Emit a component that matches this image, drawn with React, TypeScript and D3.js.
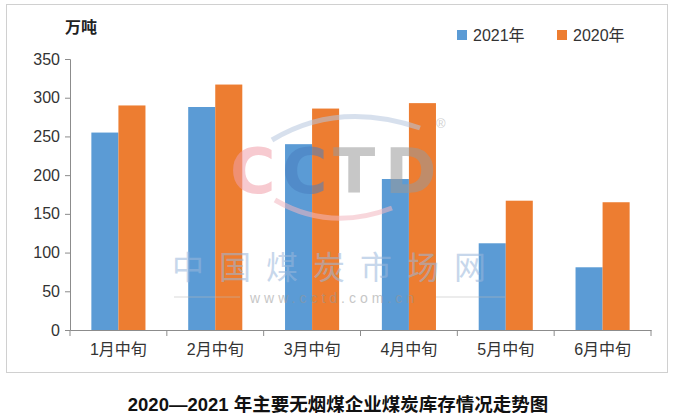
import * as d3 from "d3";
import React, { useRef, useEffect } from 'react';

const categories = ['1月中旬', '2月中旬', '3月中旬', '4月中旬', '5月中旬', '6月中旬'];
const series = ['2021年', '2020年'];
const values2021 = [255, 288, 240, 195, 112, 81];
const values2020 = [290, 317, 286, 293, 167, 165];
const yTicks = [0, 50, 100, 150, 200, 250, 300, 350];
const colors = ['#5b9bd5', '#ed7d31'];

const unitLabel = '万吨';
const title = '2020—2021 年主要无烟煤企业煤炭库存情况走势图';

const FONT = '"Liberation Sans", "Noto Sans CJK SC", sans-serif';
const CJK = '"Noto Sans CJK SC", sans-serif';

const App: React.FC = () => {
  const svgRef = useRef<SVGSVGElement | null>(null);

  useEffect(() => {
    const width = 674;
    const height = 419;
    const margin = { top: 59, right: 23, bottom: 89, left: 70 };
    const graphWidth = width - margin.left - margin.right;
    const graphHeight = height - margin.top - margin.bottom;

    const svg = d3.select(svgRef.current)
      .attr('width', width)
      .attr('height', height)
      .html('');

    // outer frame
    svg.append('rect')
      .attr('x', 6.5).attr('y', 4.5)
      .attr('width', 661).attr('height', 368)
      .attr('fill', 'white')
      .attr('stroke', '#d0d0d0');

    const xScale = d3.scaleBand()
      .domain(categories)
      .range([0, graphWidth]);

    const xSub = d3.scaleBand()
      .domain(series)
      .range([0, xScale.bandwidth()])
      .paddingOuter(0.79);

    const yScale = d3.scaleLinear()
      .domain([0, 350])
      .range([graphHeight, 0]);

    const g = svg.append('g')
      .attr('transform', `translate(${margin.left},${margin.top})`);

    const rows = categories.map((c, i) => ({ cat: c, vals: [values2021[i], values2020[i]] }));

    g.selectAll('.grp')
      .data(rows)
      .enter()
      .append('g')
      .attr('class', 'grp')
      .attr('transform', d => `translate(${xScale(d.cat)},0)`)
      .selectAll('rect')
      .data(d => d.vals.map((v, j) => ({ key: series[j], v, color: colors[j] })))
      .enter()
      .append('rect')
      .attr('x', d => xSub(d.key)!)
      .attr('width', xSub.bandwidth())
      .attr('y', d => yScale(d.v))
      .attr('height', d => graphHeight - yScale(d.v))
      .attr('fill', d => d.color);

    // Y axis
    const yAxis = g.append('g')
      .call(d3.axisLeft(yScale).tickValues(yTicks).tickSize(5).tickPadding(5));
    yAxis.selectAll('text')
      .style('font-family', FONT)
      .style('font-size', '16px')
      .style('fill', '#333');

    // X axis
    const xAxis = g.append('g')
      .attr('transform', `translate(0,${graphHeight})`)
      .call(d3.axisBottom(xScale).tickSize(0).tickPadding(14));
    xAxis.selectAll('text')
      .style('font-family', FONT)
      .style('font-size', '16px')
      .style('fill', '#333');

    // category boundary ticks
    const bounds = categories.map(c => xScale(c)!).concat([graphWidth]);
    g.selectAll('.xtick')
      .data(bounds)
      .enter()
      .append('line')
      .attr('class', 'xtick')
      .attr('x1', d => d).attr('x2', d => d)
      .attr('y1', graphHeight).attr('y2', graphHeight + 6)
      .attr('stroke', '#8c8c8c');

    g.selectAll('.domain, .tick line')
      .attr('stroke', '#8c8c8c');

    // watermark
    const wm = svg.append('g').attr('opacity', 0.55).style('pointer-events', 'none');
    wm.append('path')
      .attr('d', 'M 272 140 Q 338 100 420 128')
      .attr('fill', 'none').attr('stroke', '#b8c8e0').attr('stroke-width', 5);
    wm.append('path')
      .attr('d', 'M 275 200 Q 330 232 392 208')
      .attr('fill', 'none').attr('stroke', '#f4b8c0').attr('stroke-width', 5);
    const letters = [
      { t: 'C', x: 230, c: '#f2a0aa' },
      { t: 'C', x: 282, c: '#4a7fc0' },
      { t: 'T', x: 333, c: '#9a9a9a' },
      { t: 'D', x: 385, c: '#9a9a9a' },
    ];
    wm.selectAll('.wml')
      .data(letters)
      .enter()
      .append('text')
      .attr('x', d => d.x)
      .attr('y', 193)
      .style('font-family', '"DejaVu Sans", sans-serif')
      .style('font-size', '62px')
      .style('font-weight', 'bold')
      .style('fill', d => d.c)
      .text(d => d.t);
    wm.append('text')
      .attr('x', 436).attr('y', 128)
      .style('font-family', FONT).style('font-size', '13px').style('fill', '#aaa')
      .text('®');
    wm.append('text')
      .attr('x', 172).attr('y', 279)
      .style('font-family', CJK).style('font-size', '32px')
      .style('letter-spacing', '15px')
      .style('fill', '#9ab8dc')
      .text('中国煤炭市场网');
    wm.append('text')
      .attr('x', 250).attr('y', 303)
      .style('font-family', FONT).style('font-size', '14px')
      .style('letter-spacing', '4px')
      .style('fill', '#999')
      .text('www.cctd.com.cn');
    wm.append('line').attr('x1', 174).attr('x2', 240).attr('y1', 297).attr('y2', 297).attr('stroke', '#bbb');
    wm.append('line').attr('x1', 436).attr('x2', 505).attr('y1', 297).attr('y2', 297).attr('stroke', '#bbb');

    // legend
    const legendX = [457, 557];
    const legend = svg.append('g');
    series.forEach((s, i) => {
      legend.append('rect')
        .attr('x', legendX[i]).attr('y', 30)
        .attr('width', 10).attr('height', 10)
        .attr('fill', colors[i]);
      legend.append('text')
        .attr('x', legendX[i] + 16).attr('y', 41)
        .style('font-family', FONT).style('font-size', '16px')
        .style('fill', '#333')
        .text(s);
    });

    // unit label
    svg.append('text')
      .attr('x', 65).attr('y', 33)
      .style('font-family', CJK).style('font-size', '16px')
      .style('font-weight', 'bold').style('fill', '#222')
      .text(unitLabel);

    // title
    svg.append('text')
      .attr('x', 338).attr('y', 411)
      .attr('text-anchor', 'middle')
      .style('font-family', FONT)
      .style('font-size', '18.5px')
      .style('font-weight', 'bold')
      .style('fill', '#111')
      .text(title);
  }, []);

  return <svg ref={svgRef} style={{ position: 'absolute', left: 0, top: 0, display: 'block' }}></svg>;
};

export default App;
